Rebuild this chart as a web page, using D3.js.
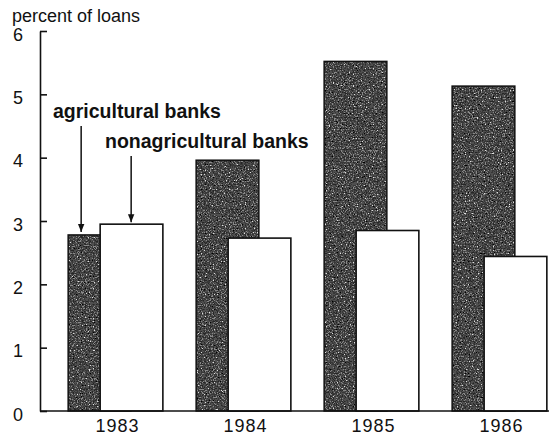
<!DOCTYPE html>
<html>
<head>
<meta charset="utf-8">
<script src="https://cdn.jsdelivr.net/npm/d3@7"></script>
<style>
  body { margin: 0; background: #fff; }
  svg { display: block; font-family: "Liberation Sans", Arial, sans-serif; }
</style>
</head>
<body>
<svg id="chart" width="549" height="437"></svg>
<script>
const years = ["1983", "1984", "1985", "1986"];
const series = ["agricultural banks", "nonagricultural banks"];
const agricultural = [2.78, 3.96, 5.52, 5.13];
const nonagricultural = [2.95, 2.73, 2.85, 2.44];
const yTicks = [0, 1, 2, 3, 4, 5, 6];

const svg = d3.select("#chart");

// speckled fill for the dark bars
const defs = svg.append("defs");
const f = defs.append("filter").attr("id", "speckle")
  .attr("x", 0).attr("y", 0).attr("width", 1).attr("height", 1);
f.append("feTurbulence").attr("type", "fractalNoise")
  .attr("baseFrequency", 0.75).attr("numOctaves", 2).attr("seed", 7).attr("result", "noise");
f.append("feColorMatrix").attr("in", "noise").attr("type", "matrix")
  .attr("values", "1 0 0 0 0  1 0 0 0 0  1 0 0 0 0  0 0 0 0 1").attr("result", "gray");
const ct = f.append("feComponentTransfer").attr("in", "gray").attr("result", "spots");
["feFuncR", "feFuncG", "feFuncB"].forEach(fn =>
  ct.append(fn).attr("type", "discrete").attr("tableValues", "0 0 0.02 0.04 0.08 0.25 0.75 1"));
f.append("feComposite").attr("in", "spots").attr("in2", "SourceGraphic").attr("operator", "in");

const x = d3.scaleBand().domain(years).range([40, 575]).paddingInner(0.26).paddingOuter(0.22);
const off = d3.scalePoint().domain(series).range([0, 32]);
const barW = x.bandwidth() - 32;
const y = d3.scaleLinear().domain([0, 6]).range([411, 31]);

const data = years.map((yr, i) => ({ year: yr, values: [agricultural[i], nonagricultural[i]] }));

// dark bars (agricultural)
svg.append("g").selectAll("rect").data(data).join("rect")
  .attr("x", d => x(d.year) + off(series[0]))
  .attr("y", d => y(d.values[0]))
  .attr("width", barW)
  .attr("height", d => y(0) - y(d.values[0]))
  .attr("fill", "#000")
  .attr("filter", "url(#speckle)");
svg.append("g").selectAll("rect").data(data).join("rect")
  .attr("x", d => x(d.year) + off(series[0]))
  .attr("y", d => y(d.values[0]))
  .attr("width", barW)
  .attr("height", d => y(0) - y(d.values[0]))
  .attr("fill", "none")
  .attr("stroke", "#111")
  .attr("stroke-width", 1.5);

// white bars (nonagricultural) in front
svg.append("g").selectAll("rect").data(data).join("rect")
  .attr("x", d => x(d.year) + off(series[1]))
  .attr("y", d => y(d.values[1]))
  .attr("width", barW)
  .attr("height", d => y(0) - y(d.values[1]))
  .attr("fill", "#fff")
  .attr("stroke", "#111")
  .attr("stroke-width", 1.6);

// y axis
const yAxis = svg.append("g").attr("transform", "translate(40,0)")
  .call(d3.axisLeft(y).tickValues(yTicks).tickFormat(d3.format("d"))
    .tickSizeInner(-7).tickSizeOuter(0).tickPadding(17));
yAxis.select(".domain").attr("stroke", "#111").attr("stroke-width", 1.6);
yAxis.selectAll(".tick line").attr("stroke", "#111").attr("stroke-width", 1.6);
yAxis.selectAll(".tick text").attr("font-size", 18).attr("fill", "#111").attr("dy", "0.5em")
  .attr("font-family", "Liberation Sans, Arial, sans-serif");

// x axis
const xAxis = svg.append("g").attr("transform", "translate(0,411)")
  .call(d3.axisBottom(x).tickSize(0).tickPadding(8));
xAxis.select(".domain").attr("d", "M40,0H549").attr("stroke", "#111").attr("stroke-width", 1.6);
xAxis.selectAll(".tick text").attr("font-size", 18).attr("fill", "#111")
  .attr("letter-spacing", 1).attr("dx", 2)
  .attr("font-family", "Liberation Sans, Arial, sans-serif");

// axis title
svg.append("text").attr("x", 12).attr("y", 22)
  .attr("font-size", 18).attr("fill", "#111").text("percent of loans");

// arrows and series labels
defs.append("marker").attr("id", "head").attr("viewBox", "0 0 10 10")
  .attr("refX", 10).attr("refY", 5).attr("markerWidth", 10).attr("markerHeight", 8)
  .attr("markerUnits", "userSpaceOnUse").attr("orient", "auto")
  .append("path").attr("d", "M0,1L10,5L0,9Z").attr("fill", "#111");

const ax0 = x(years[0]) + off(series[0]) + 13;
const ax1 = x(years[0]) + off(series[1]) + 31;
svg.append("line").attr("x1", ax0).attr("x2", ax0).attr("y1", 126).attr("y2", y(agricultural[0]) - 3)
  .attr("stroke", "#111").attr("stroke-width", 1.5).attr("marker-end", "url(#head)");
svg.append("line").attr("x1", ax1).attr("x2", ax1).attr("y1", 156).attr("y2", y(nonagricultural[0]) - 2)
  .attr("stroke", "#111").attr("stroke-width", 1.5).attr("marker-end", "url(#head)");

svg.append("text").attr("x", 53).attr("y", 118)
  .attr("font-size", 19.5).attr("font-weight", "bold").attr("fill", "#111").text(series[0]);
svg.append("text").attr("x", 105).attr("y", 148)
  .attr("font-size", 19.5).attr("font-weight", "bold").attr("fill", "#111").text(series[1]);
</script>
</body>
</html>
